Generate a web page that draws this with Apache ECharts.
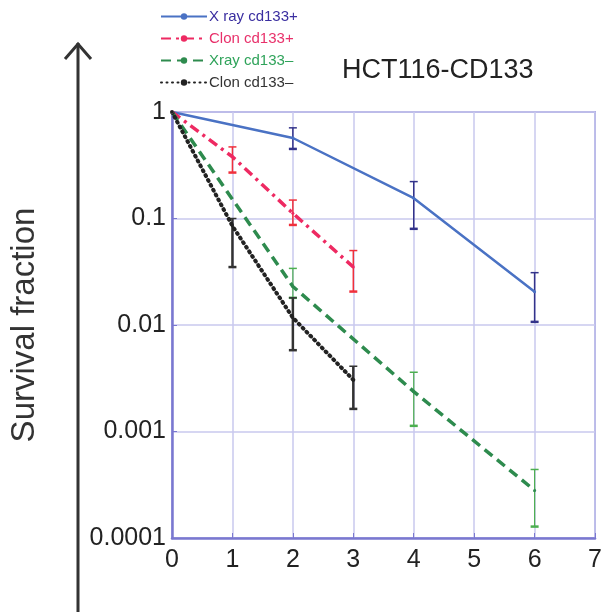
<!DOCTYPE html>
<html><head><meta charset="utf-8">
<script src="https://cdn.jsdelivr.net/npm/echarts@6/dist/echarts.min.js"></script>
<style>html,body{margin:0;padding:0;background:#fff}#c{width:605px;height:614px}</style>
</head><body><div id="c"></div>
<script>
const doses = [0, 1, 2, 3, 4, 5, 6, 7];
const yTicks = [0.0001, 0.001, 0.01, 0.1, 1];
const seriesNames = ['X ray cd133+', 'Clon cd133+', 'Xray cd133\u2013', 'Clon cd133\u2013'];

const xrayPosX = [0, 2, 4, 6];
const xrayPosY = [1, 0.57, 0.155, 0.0205];
const xrayPosLow = [null, 0.45, 0.080, 0.0107];
const xrayPosHigh = [null, 0.71, 0.222, 0.031];

const clonPosX = [0, 1, 2, 3];
const clonPosY = [1, 0.38, 0.112, 0.035];
const clonPosLow = [null, 0.27, 0.087, 0.0206];
const clonPosHigh = [null, 0.47, 0.149, 0.050];

const xrayNegX = [0, 2, 4, 6];
const xrayNegY = [1, 0.023, 0.00237, 0.00028];
const xrayNegLow = [null, 0.018, 0.00113, 0.000128];
const xrayNegHigh = [null, 0.034, 0.0036, 0.00044];

const clonNegX = [0, 1, 2, 3];
const clonNegY = [1, 0.085, 0.0117, 0.00305];
const clonNegLow = [null, 0.035, 0.0058, 0.00163];
const clonNegHigh = [null, 0.1, 0.018, 0.0041];

const lineColors = ['#4a72c4', '#ee2a62', '#2e8b4e', '#222222'];
const barColors = ['#33338a', '#f0303c', '#4caf50', '#333333'];
const textColors = ['#3a2ea0', '#e8306a', '#2fa35a', '#333333'];
const barWidths = [1.5, 1.5, 1.2, 2.5];

function pairs(xs, ys){ return xs.map((x,i)=>[x, ys[i]]); }
function errData(xs, lo, hi){ const d=[]; xs.forEach((x,i)=>{ if(lo[i]!=null) d.push([x, lo[i], hi[i]]); }); return d; }

function errSeries(name, data, color, w){
  return {
    type: 'custom', name: name, data: data, z: 3,
    renderItem: function(params, api){
      const x = api.value(0);
      const p1 = api.coord([x, api.value(1)]);
      const p2 = api.coord([x, api.value(2)]);
      const cap = 4;
      const st = {stroke: color, lineWidth: w};
      return {type:'group', children:[
        {type:'line', shape:{x1:p1[0],y1:p1[1],x2:p2[0],y2:p2[1]}, style:st},
        {type:'line', shape:{x1:p1[0]-cap,y1:p1[1],x2:p1[0]+cap,y2:p1[1]}, style:{stroke:color, lineWidth:2.5}},
        {type:'line', shape:{x1:p2[0]-cap,y1:p2[1],x2:p2[0]+cap,y2:p2[1]}, style:{stroke:color, lineWidth:1.5}}
      ]};
    }
  };
}

const chart = echarts.init(document.getElementById('c'), null, {renderer:'canvas'});
const dashes = ['solid', [10,5,3,5], [10,6], [1,4.5]];
const lineData = [pairs(xrayPosX,xrayPosY), pairs(clonPosX,clonPosY), pairs(xrayNegX,xrayNegY), pairs(clonNegX,clonNegY)];
const errs = [errData(xrayPosX,xrayPosLow,xrayPosHigh), errData(clonPosX,clonPosLow,clonPosHigh), errData(xrayNegX,xrayNegLow,xrayNegHigh), errData(clonNegX,clonNegLow,clonNegHigh)];

const series = [];
seriesNames.forEach((n,i)=>{
  series.push({
    type:'line', name:n, data:lineData[i], z: 4,
    symbol: 'circle', symbolSize: 3, showSymbol: true,
    itemStyle:{color: lineColors[i]},
    lineStyle:{color: lineColors[i], width: i===0?2.5:(i===3?4:3.5), type: dashes[i], cap: i===3?'round':'butt'}
  });
  series.push(errSeries(n, errs[i], barColors[i], barWidths[i]));
});

const font = 'Liberation Sans, Arial';
chart.setOption({
  animation:false,
  backgroundColor:'#fff',
  title:{text:'HCT116-CD133', left:337, top:52, textStyle:{fontFamily:font, fontSize:27, fontWeight:'normal', color:'#222'}},
  legend:{
    orient:'vertical', left:155, top:4, itemGap:7, itemWidth:46, itemHeight:8,
    data: seriesNames.map((n,i)=>({name:n, textStyle:{color:textColors[i]}})),
    textStyle:{fontFamily:font, fontSize:15, padding:[0,0,0,-3]}
  },
  grid:{left:172, right:7, top:112, bottom:76, show:true, borderColor:'#7a78d0', borderWidth:1.5},
  xAxis:{
    type:'value', min:0, max:7, interval:1,
    axisLine:{show:true, lineStyle:{color:'#7a78d0', width:2.5}},
    axisTick:{show:true, inside:true, length:5, lineStyle:{color:'#7a78d0'}},
    axisLabel:{fontFamily:font, fontSize:25, color:'#222', margin:10,
      formatter: v => String(doses[Math.round(v)])},
    splitLine:{show:true, lineStyle:{color:'#c9c8ee', width:1.5}}
  },
  yAxis:{
    type:'log', logBase:10, min:0.0001, max:1,
    name:'Survival fraction', nameLocation:'middle', nameGap:131, nameRotate:90,
    nameTextStyle:{fontFamily:font, fontSize:33, color:'#333'},
    axisLine:{show:true, lineStyle:{color:'#7a78d0', width:2.5}},
    axisTick:{show:true, inside:true, length:5, lineStyle:{color:'#7a78d0'}},
    axisLabel:{fontFamily:font, fontSize:25, color:'#222', margin:6,
      formatter: v => { const t = yTicks.find(t => Math.abs(Math.log10(t)-Math.log10(v))<1e-6); return t===undefined?'':String(t); }},
    splitLine:{show:true, lineStyle:{color:'#c9c8ee', width:1.5}}
  },
  graphic:[
    {type:'line', shape:{x1:78,y1:43,x2:78,y2:612}, style:{stroke:'#333', lineWidth:3}},
    {type:'polyline', shape:{points:[[65,59],[78,44],[91,59]]}, style:{stroke:'#333', lineWidth:3, fill:null}}
  ],
  series: series
});
</script></body></html>
